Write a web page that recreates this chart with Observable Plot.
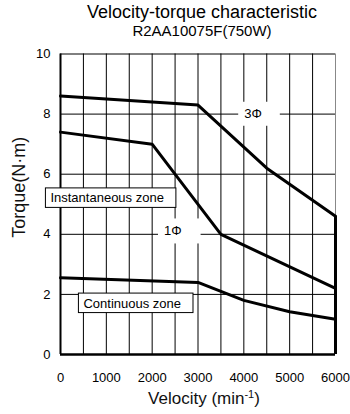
<!DOCTYPE html>
<html>
<head>
<meta charset="utf-8">
<script src="https://cdn.jsdelivr.net/npm/d3@7"></script>
<script src="https://cdn.jsdelivr.net/npm/@observablehq/plot@0.6"></script>
<style>
html, body { margin: 0; padding: 0; background: #fff; }
#chart { width: 350px; height: 414px; font-family: "Liberation Sans", Arial, sans-serif; color: #000; }
#chart .title { font-size: 18px; line-height: 20px; padding-top: 2px; padding-left: 54px; text-align: center; white-space: nowrap; }
#chart .subtitle { font-size: 15px; line-height: 18px; padding-left: 54px; text-align: center; white-space: nowrap; }
#chart svg { display: block; }
</style>
</head>
<body>
<div id="chart"><div class="title"></div><div class="subtitle"></div></div>
<script>
// ---- text ----
const titleText = "Velocity-torque characteristic";
const subtitleText = "R2AA10075F(750W)";
const xLabel = "Velocity (min-1)";
const yLabel = "Torque(N·m)";

// ---- ticks / grid ----
const xTicks = [0, 1000, 2000, 3000, 4000, 5000, 6000];
const xTickLabels = ["0", "1000", "2000", "3000", "4000", "5000", "6000"];
const yTicks = [0, 2, 4, 6, 8, 10];
const xGrid = [500, 1000, 1500, 2000, 2500, 3000, 3500, 4000, 4500, 5000, 5500];
const yGrid = [2, 4, 6, 8, 10];

// ---- series ----
const velocity3Phase = [0, 3000, 4500, 6000];
const torque3Phase = [8.6, 8.3, 6.2, 4.6];
const velocity1Phase = [0, 2000, 3500, 6000];
const torque1Phase = [7.4, 7.0, 4.0, 2.2];
const velocityContinuous = [0, 3000, 4000, 5000, 6000];
const torqueContinuous = [2.55, 2.4, 1.8, 1.42, 1.17];

// ---- annotations (data units) ----
const phaseLabels = ["3Φ", "1Φ"];
const phaseLabelX = [4200, 2450];
const phaseLabelY = [8, 4.1];
const zoneLabels = ["Instantaneous zone", "Continuous zone"];
const zoneLabelX = [-220, 500];
const zoneLabelY = [5.2, 1.7];

const toPoints = (xs, ys) => xs.map((x, i) => ({x, y: ys[i]}));
const phaseData = phaseLabels.map((t, i) => ({t, x: phaseLabelX[i], y: phaseLabelY[i]}));
const zoneData = zoneLabels.map((t, i) => ({t, x: zoneLabelX[i], y: zoneLabelY[i]}));

document.querySelector("#chart .title").textContent = titleText;
document.querySelector("#chart .subtitle").textContent = subtitleText;

const font = '"Liberation Sans", Arial, sans-serif';
const curve = {x: "x", y: "y", stroke: "#000", strokeWidth: 3, strokeLinejoin: "miter"};

const svg = Plot.plot({
  width: 350,
  height: 374,
  marginTop: 13.5,
  marginBottom: 60,
  marginLeft: 60,
  marginRight: 15,
  style: {fontFamily: font, fontSize: "13px", color: "#000", background: "#fff", overflow: "visible"},
  x: {domain: [0, 6000]},
  y: {domain: [0, 10]},
  marks: [
    Plot.ruleX(xGrid, {stroke: "#000", strokeWidth: 1}),
    Plot.ruleY(yGrid, {stroke: "#000", strokeWidth: 1}),
    Plot.ruleX([xTicks[xTicks.length - 1]], {stroke: "#888", strokeWidth: 1}),
    Plot.text(phaseData, {x: "x", y: "y", text: "t", fontSize: 13, fill: "#000"}),
    Plot.line(toPoints(velocity3Phase, torque3Phase), curve),
    Plot.line(toPoints(velocity1Phase, torque1Phase), curve),
    Plot.line(toPoints(velocityContinuous, torqueContinuous), curve),
    Plot.ruleX([velocity3Phase[velocity3Phase.length - 1]], {y1: 0, y2: torque3Phase[torque3Phase.length - 1], stroke: "#000", strokeWidth: 3}),
    Plot.ruleX([0], {stroke: "#000", strokeWidth: 2}),
    Plot.ruleY([0], {stroke: "#000", strokeWidth: 2.5}),
    Plot.axisX({ticks: xTicks, tickFormat: (d, i) => xTickLabels[i], tickSize: 0, tickPadding: 18, label: null, fontSize: 13}),
    Plot.axisY({ticks: yTicks, tickFormat: d => String(d), tickSize: 0, tickPadding: 10, label: null, fontSize: 13}),
    Plot.text(zoneData, {x: "x", y: "y", text: "t", textAnchor: "start", fontSize: 13, fill: "#000"}),
    Plot.text([yLabel], {text: d => d, frameAnchor: "left", rotate: -90, dx: -41, dy: -17, fontSize: 18, textAnchor: "middle", lineAnchor: "middle", fill: "#111"}),
    Plot.text([xLabel], {text: d => d, frameAnchor: "bottom", dx: 6, dy: 44, fontSize: 17, textAnchor: "middle", lineAnchor: "middle", fill: "#111"})
  ]
});

document.getElementById("chart").appendChild(svg);

// boxes behind annotation labels
const NS = "http://www.w3.org/2000/svg";
const boxSpecs = {
  "3Φ": {l: 6, r: 18, t: 4.5, b: 4.5, stroke: "none"},
  "1Φ": {l: 6, r: 19, t: 5, b: 5, stroke: "none"},
  "Instantaneous zone": {l: 5, r: 12, t: 2.5, b: 2, stroke: "#000"},
  "Continuous zone": {l: 5, r: 12, t: 2.5, b: 2, stroke: "#000"}
};
svg.querySelectorAll("text").forEach(t => {
  const spec = boxSpecs[t.textContent];
  if (!spec) return;
  const b = t.getBBox();
  const r = document.createElementNS(NS, "rect");
  r.setAttribute("x", b.x - spec.l);
  r.setAttribute("y", b.y - spec.t);
  r.setAttribute("width", b.width + spec.l + spec.r);
  r.setAttribute("height", b.height + spec.t + spec.b);
  r.setAttribute("fill", "#fff");
  r.setAttribute("stroke", spec.stroke);
  r.setAttribute("stroke-width", 1);
  if (t.hasAttribute("transform")) r.setAttribute("transform", t.getAttribute("transform"));
  t.parentNode.insertBefore(r, t);
});

// superscript in the x axis label
svg.querySelectorAll("text").forEach(t => {
  if (t.textContent !== xLabel) return;
  const m = xLabel.match(/^(.*\()(\w+)(-1)(\))$/);
  t.textContent = "";
  const a = document.createElementNS(NS, "tspan"); a.textContent = m[1] + m[2];
  const s = document.createElementNS(NS, "tspan"); s.textContent = m[3];
  s.setAttribute("font-size", "11"); s.setAttribute("dy", "-6");
  const c = document.createElementNS(NS, "tspan"); c.textContent = m[4];
  c.setAttribute("dy", "6");
  t.append(a, s, c);
});
</script>
</body>
</html>
